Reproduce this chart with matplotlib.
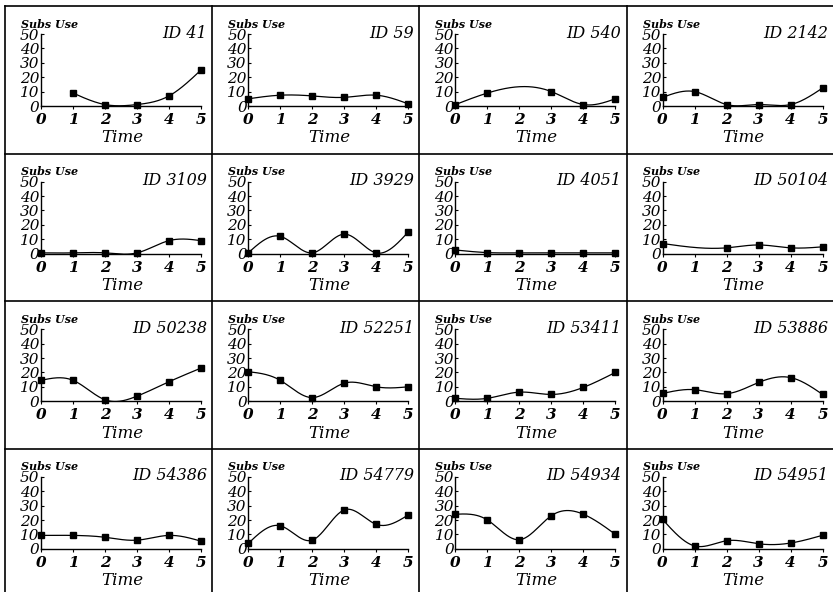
import numpy as np
import matplotlib.pyplot as plt
from matplotlib.lines import Line2D

# Substance use over time for 16 subjects (nan = not observed)
nan = np.nan
ids = ["41", "59", "540", "2142",
       "3109", "3929", "4051", "50104",
       "50238", "52251", "53411", "53886",
       "54386", "54779", "54934", "54951"]
time = [0, 1, 2, 3, 4, 5]
use = [
    [nan, 9, 1, 1, 7, 25],
    [5, 7.5, 7, 6, 7.5, 1.5],
    [1, 9, nan, 10, 1, 5],
    [6, 10, 1, 1, 1, 12.5],
    [0.5, 0.5, 0.5, 0.5, 9, 9],
    [0.5, 12, 0.5, 13.5, 0.5, 15],
    [2.5, 0.7, 0.5, 0.5, 0.5, 0.5],
    [7, nan, 4, 6, 4, 4.7],
    [14.5, 14.5, 1, 3.5, 13.5, 23],
    [20.5, 14.5, 2.5, 12.5, 10, 10],
    [2, 2, 6.3, 4.7, 9.6, 20],
    [5.4, 8, 5.2, 13, 16.4, 4.7],
    [9.3, 9.3, 8, 6, 9.3, 5.3],
    [3.7, 16, 6, 27, 17, 23.5],
    [24, 20, 6.3, 23, 24, 10],
    [20.4, 2, 5.6, 3.5, 4, 9.4],
]
yticks = [0, 10, 20, 30, 40, 50]


def natural_spline(x, y, n=200):
    # natural cubic spline through the observed points, for the smooth line
    x = np.asarray(x, float)
    y = np.asarray(y, float)
    k = len(x)
    h = np.diff(x)
    A = np.zeros((k, k))
    b = np.zeros(k)
    A[0, 0] = A[-1, -1] = 1
    for i in range(1, k - 1):
        A[i, i - 1] = h[i - 1]
        A[i, i] = 2 * (h[i - 1] + h[i])
        A[i, i + 1] = h[i]
        b[i] = 6 * ((y[i + 1] - y[i]) / h[i] - (y[i] - y[i - 1]) / h[i - 1])
    M = np.linalg.solve(A, b)
    xs = np.linspace(x[0], x[-1], n)
    j = np.clip(np.searchsorted(x, xs) - 1, 0, k - 2)
    t0, t1 = x[j], x[j + 1]
    hh = t1 - t0
    ys = (M[j] * (t1 - xs) ** 3 / (6 * hh) + M[j + 1] * (xs - t0) ** 3 / (6 * hh)
          + (y[j] / hh - M[j] * hh / 6) * (t1 - xs)
          + (y[j + 1] / hh - M[j + 1] * hh / 6) * (xs - t0))
    return xs, ys


W, H = 833, 592
fig = plt.figure(figsize=(W / 100, H / 100), dpi=100)
serif = "DejaVu Serif"

cell_w, cell_h = 207.2, 147.6
x0, y0 = 5, 6


def fx(px):
    return px / W


def fy(py):
    return 1 - py / H


for k, (sid, vals) in enumerate(zip(ids, use)):
    r, c = divmod(k, 4)
    cl = x0 + c * cell_w
    ct = y0 + r * cell_h
    ax = fig.add_axes([fx(cl + 36), fy(ct + 100), 160 / W, 72 / H])
    vals = np.array(vals, float)
    ok = ~np.isnan(vals)
    xt = np.array(time)[ok]
    xs, ys = natural_spline(xt, vals[ok])
    ax.plot(xs, ys, color="black", lw=0.9)
    ax.plot(xt, vals[ok], "s", color="black", ms=4, clip_on=False)
    ax.set_xlim(0, 5)
    ax.set_ylim(0, 50)
    ax.set_xticks(time)
    ax.set_yticks(yticks)
    ax.set_xticklabels([str(t) for t in time], fontfamily=serif,
                       fontstyle="italic", fontweight="bold", fontsize=11)
    ax.set_yticklabels([str(v) for v in yticks], fontfamily=serif,
                       fontstyle="italic", fontsize=11)
    ax.tick_params(axis="x", length=2, width=0.8, pad=3)
    ax.tick_params(axis="y", length=2, width=0.8, pad=1, direction="in")
    for s in ["top", "right"]:
        ax.spines[s].set_visible(False)
    for s in ["left", "bottom"]:
        ax.spines[s].set_linewidth(1.0)
    ax.patch.set_alpha(0)

    fig.text(fx(cl + 16), fy(ct + 18), "Subs Use", fontfamily=serif,
             fontstyle="italic", fontweight="bold", fontsize=8, va="center", ha="left")
    fig.text(fx(cl + 202), fy(ct + 27), "ID " + sid, fontfamily=serif,
             fontstyle="italic", fontsize=11.5, va="center", ha="right")
    fig.text(fx(cl + 117), fy(ct + 132), "Time", fontfamily=serif,
             fontstyle="italic", fontsize=12, va="center", ha="center")

# cell borders
for c in range(4):
    xp = fx(x0 + c * cell_w)
    fig.add_artist(Line2D([xp, xp], [0, fy(y0)], color="black", lw=1.2))
for r in range(4):
    yp = fy(y0 + r * cell_h)
    fig.add_artist(Line2D([fx(x0), 1], [yp, yp], color="black", lw=1.2))

fig.savefig("out.png", dpi=100)
